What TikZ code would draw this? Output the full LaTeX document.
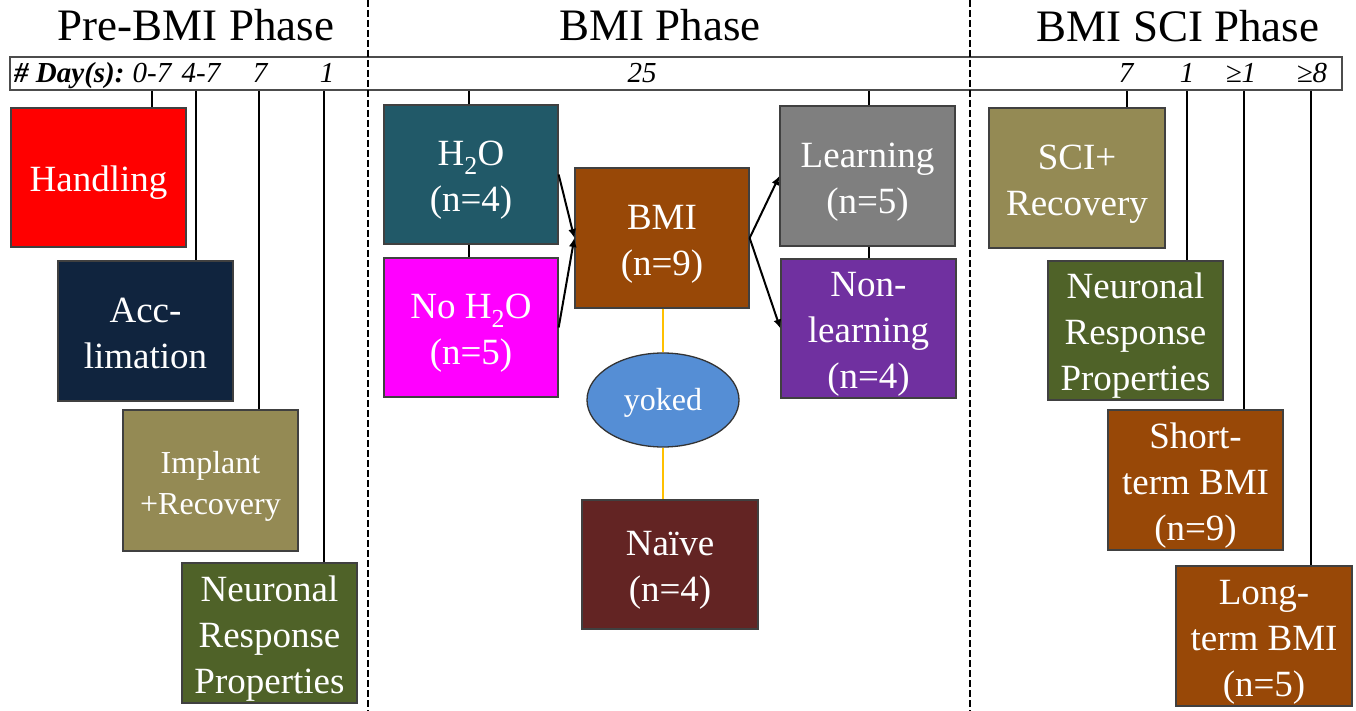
\documentclass[tikz,border=0pt]{standalone}
\usepackage{fontspec}
\setmainfont{Liberation Serif}
\usetikzlibrary{arrows.meta,shapes.geometric}
\definecolor{cRed}{HTML}{FF0000}
\definecolor{cNavy}{HTML}{10243E}
\definecolor{cOlive}{HTML}{948A54}
\definecolor{cGreen}{HTML}{4F6228}
\definecolor{cTeal}{HTML}{215968}
\definecolor{cMag}{HTML}{FF00FF}
\definecolor{cBrown}{HTML}{984807}
\definecolor{cMaroon}{HTML}{632423}
\definecolor{cGray}{HTML}{7F7F7F}
\definecolor{cPurple}{HTML}{7030A0}
\definecolor{cBlue}{HTML}{558ED5}
\definecolor{cYellow}{HTML}{FFC000}
\newcommand\btxt[1]{\raisebox{0pt}[\dimexpr\height+5pt\relax][\dimexpr\depth-5pt\relax]{\begin{tabular}{@{}c@{}}#1\end{tabular}}}
\begin{document}
\begin{tikzpicture}[x=1pt,y=-1pt,
  box/.style={draw=black!75, line width=1.3pt, text=white, inner sep=0pt,
    font=\fontsize{37}{46}\selectfont},
  tickline/.style={draw=black, line width=2pt},
  arr/.style={draw=black, line width=2pt, -{Latex[length=9pt,width=8pt]}},
  yoke/.style={draw=cYellow, line width=2.2pt},
  divider/.style={draw=black, line width=1.8pt, dash pattern=on 7pt off 3pt},
  title/.style={font=\fontsize{45}{50}\selectfont, anchor=base, inner sep=0pt},
  day/.style={font=\fontsize{29}{30}\selectfont\itshape, anchor=base, inner sep=0pt}]
\useasboundingbox (0,0) rectangle (1356,711);
\fill[white] (0,0) rectangle (1356,711);

% titles
\node[title] (t1) at (196,41) {Pre-BMI Phase};
\node[title] (t2) at (660,41) {BMI Phase};
\node[title] (t3) at (1178,42) {BMI SCI Phase};

% day bar
\node[draw=black!70, line width=1.8pt, minimum width=1332pt, minimum height=33pt, inner sep=0pt] (bar) at (676,73.5) {};
\node[day, anchor=base west] (dl) at (14,83) {\textbf{\# Day(s):}};
\node[day] (d1) at (152,83) {0-7};
\node[day] (d2) at (201,83) {4-7};
\node[day] (d3) at (260,83) {7};
\node[day] (d4) at (327,83) {1};
\node[day] (d5) at (642,83) {25};
\node[day] (d6) at (1126,83) {7};
\node[day] (d7) at (1187,83) {1};
\node[day] (d8) at (1241,83) {≥1};
\node[day] (d9) at (1312,83) {≥8};

% dividers
\draw[divider] (368,0) -- (368,711);
\draw[divider] (970,0) -- (970,711);

% pre-BMI boxes
\node[box, fill=cRed, minimum width=175pt, minimum height=139pt] (handling) at (98.5,177.5) {\btxt{Handling}};
\node[box, fill=cNavy, minimum width=175pt, minimum height=140pt] (acc) at (145.5,331) {\btxt{Acc-\\limation}};
\node[box, fill=cOlive, minimum width=175pt, minimum height=141pt, font=\fontsize{32}{41}\selectfont] (implant) at (210.5,480.5) {\btxt{Implant\\+Recovery}};
\node[box, fill=cGreen, minimum width=175pt, minimum height=140pt] (neur1) at (269.5,633) {\btxt{Neuronal\\Response\\Properties}};

% BMI boxes
\node[box, fill=cTeal, minimum width=174pt, minimum height=139pt] (h2o) at (471,174.5) {\btxt{H\textsubscript{2}O\\(n=4)}};
\node[box, fill=cMag, minimum width=174pt, minimum height=139pt] (noh2o) at (471,327.5) {\btxt{No H\textsubscript{2}O\\(n=5)}};
\node[box, fill=cBrown, minimum width=174pt, minimum height=140pt] (bmi) at (662,238) {\btxt{BMI\\(n=9)}};
\node[ellipse, draw=black!80, line width=1.3pt, fill=cBlue, text=white, minimum width=152pt, minimum height=94pt, inner sep=0pt, font=\fontsize{32}{34}\selectfont] (yoked) at (663,400) {\raisebox{0pt}[\dimexpr\height+3pt\relax][\dimexpr\depth-3pt\relax]{yoked}};
\node[box, fill=cMaroon, minimum width=176pt, minimum height=129pt] (naive) at (670,564.5) {\btxt{Naïve\\(n=4)}};
\node[box, fill=cGray, minimum width=175pt, minimum height=140pt] (learn) at (867.5,176) {\btxt{Learning\\(n=5)}};
\node[box, fill=cPurple, minimum width=175pt, minimum height=139pt] (nonlearn) at (868.5,328.5) {\btxt{Non-\\learning\\(n=4)}};

% SCI boxes
\node[box, fill=cOlive, minimum width=176pt, minimum height=140pt] (sci) at (1077,178) {\btxt{SCI+\\Recovery}};
\node[box, fill=cGreen, minimum width=175pt, minimum height=139pt] (neur2) at (1135.5,330.5) {\btxt{Neuronal\\Response\\Properties}};
\node[box, fill=cBrown, minimum width=175pt, minimum height=140pt] (short) at (1195.5,480) {\btxt{Short-\\term BMI\\(n=9)}};
\node[box, fill=cBrown, minimum width=176pt, minimum height=140pt] (long) at (1264,636) {\btxt{Long-\\term BMI\\(n=5)}};

% tick positions
\coordinate (x1) at (152,0);
\coordinate (x2) at (196,0);
\coordinate (x3) at (259,0);
\coordinate (x4) at (324,0);
\coordinate (x5) at (469,0);
\coordinate (x6) at (869,0);
\coordinate (x7) at (1127,0);
\coordinate (x8) at (1187,0);
\coordinate (x9) at (1244,0);
\coordinate (x10) at (1311,0);

\draw[tickline] (bar.south -| x1) -- (handling.north -| x1);
\draw[tickline] (bar.south -| x2) -- (acc.north -| x2);
\draw[tickline] (bar.south -| x3) -- (implant.north -| x3);
\draw[tickline] (bar.south -| x4) -- (neur1.north -| x4);
\draw[tickline] (bar.south -| x5) -- (h2o.north -| x5);
\draw[tickline] (h2o.south -| x5) -- (noh2o.north -| x5);
\draw[tickline] (bar.south -| x6) -- (learn.north -| x6);
\draw[tickline] (learn.south -| x6) -- (nonlearn.north -| x6);
\draw[tickline] (bar.south -| x7) -- (sci.north -| x7);
\draw[tickline] (bar.south -| x8) -- (neur2.north -| x8);
\draw[tickline] (bar.south -| x9) -- (short.north -| x9);
\draw[tickline] (bar.south -| x10) -- (long.north -| x10);

% arrows
\draw[arr] (h2o.east) -- (bmi.west);
\draw[arr] (noh2o.east) -- (bmi.west);
\draw[arr] (bmi.east) -- (learn.west);
\draw[arr] (bmi.east) -- (nonlearn.west);

% yoked links
\draw[yoke] (bmi.south -| yoked.north) -- (yoked.north);
\draw[yoke] (yoked.south) -- (naive.north -| yoked.south);
\end{tikzpicture}
\end{document}
